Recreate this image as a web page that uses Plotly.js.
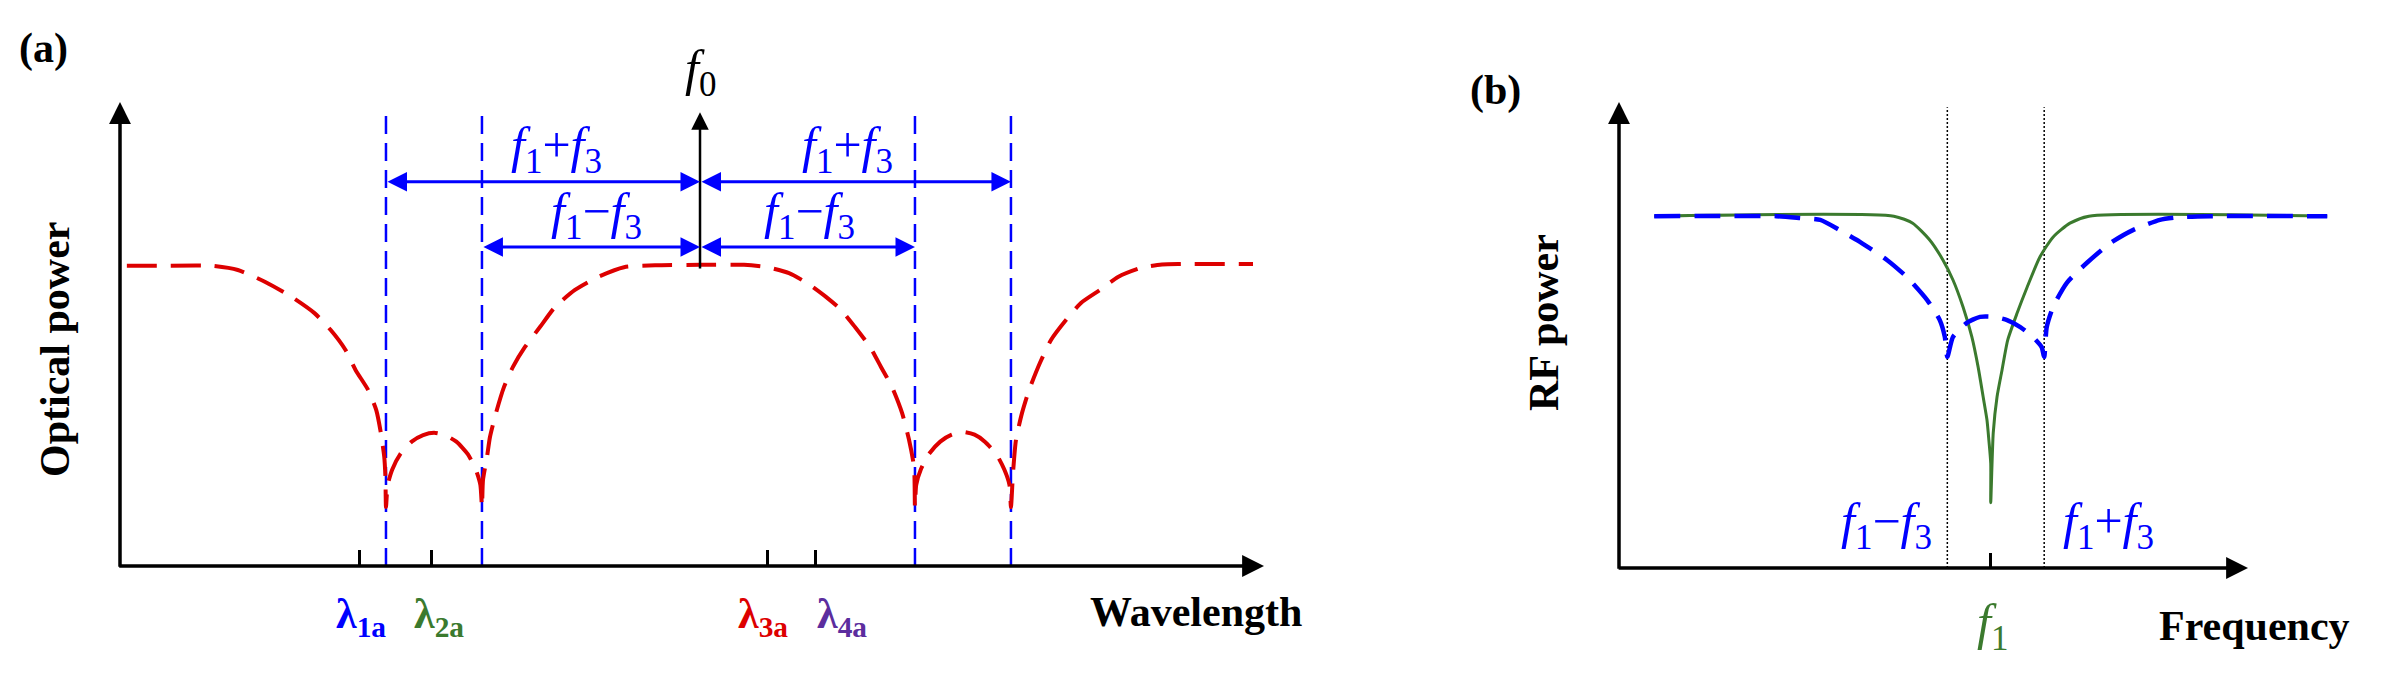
<!DOCTYPE html>
<html><head><meta charset="utf-8">
<script src="https://cdn.plot.ly/plotly-3.0.1.min.js"></script>
<style>html,body{margin:0;padding:0;background:#fff;overflow:hidden}</style>
</head><body><div id="chart" style="width:2383px;height:689px"></div>
<script>
// ---------------- Panel (a): optical spectrum (arbitrary units) ----------------
const aWavelength = [0.6,3.2,8.0,10.3,12.7,15.0,17.0,18.4,19.7,20.6,21.7,22.4,22.8,23.1,23.2,23.25,
  23.4,23.8,24.5,25.5,26.5,27.45,28.4,29.4,30.4,31.1,31.5,31.64,
  31.73,32.08,32.34,32.87,33.57,34.35,35.4,36.71,38.02,39.77,41.78,44.06,46.77,50.7,54.55,56.56,58.48,60.05,61.71,63.03,64.25,65.56,66.52,67.48,68.36,68.97,69.41,69.49,
  69.6,70.0,70.7,71.7,72.7,73.7,74.7,75.6,76.6,77.3,77.75,77.88,
  78.06,78.32,78.85,79.46,80.42,81.38,82.69,84.0,85.66,87.24,89.16,91.08,92.75,99.04];
const aOpticalPower = [64.7,64.7,64.7,63.8,61.2,58.0,54.5,50.9,46.6,42.2,37.9,33.6,28.7,23.5,19.2,12.7,
  17.5,20.8,24.1,26.8,28.2,28.7,28.2,26.8,24.1,20.8,17.5,12.7,
  18.5,23.5,27.8,33.0,38.6,42.9,47.2,51.5,55.8,59.5,62.3,64.4,64.8,64.9,64.9,64.4,63.1,61.0,58.0,55.2,51.5,47.2,42.9,38.6,33.0,27.2,21.3,12.7,
  17.5,20.8,24.1,26.8,28.3,28.9,28.3,26.8,24.1,20.8,17.5,12.7,
  20.0,27.2,33.0,37.9,43.8,48.7,53.0,56.7,59.5,62.3,64.2,65.0,65.1,65.1];
const aNotchX = [23.25, 31.64, 69.49, 77.88];      // blue dashed markers
const aCarrierX = 50.7;                            // f0
const aCarrierArrow = [63.8, 97.8];                // f0 arrow bottom / top
const aNotchTop = 97.6;
const aSumRowY = 82.8;                             // f1+f3 arrows
const aDiffRowY = 68.75;                           // f1-f3 arrows
const aLambdaX = [20.9, 27.2, 56.6, 60.8];
const aLambdaText = ['λ<sub>1a</sub>','λ<sub>2a</sub>','λ<sub>3a</sub>','λ<sub>4a</sub>'];
const aLambdaColor = ['#0000ff','#3b7a2e','#dd0000','#5c2d9e'];

// ---------------- Panel (b): RF response (arbitrary units) ----------------
const bGreenFreq = [5.6,43.7,46.7,49.4,51.5,53.1,54.7,56.1,57.1,57.9,58.5,58.8,59.1,59.1,
  59.5,60.1,60.9,61.8,63.3,64.9,66.9,69.0,71.7,74.7,112.6];
const bGreenPower = [75.5,75.5,74.0,70.4,66.1,61.8,56.0,49.6,43.1,36.7,31.8,27.5,22.5,14.0,
  29.0,36.7,42.5,48.9,54.7,60.3,66.7,71.0,74.0,75.5,75.5];
const bBlueFreq = [5.6,25.0,28.8,32.0,35.1,38.3,42.6,45.8,49.0,51.0,51.8,52.2,
  53.1,55.3,57.4,59.5,61.7,63.8,65.8,67.2,67.6,
  68.0,69.0,71.2,74.4,78.1,81.7,86.0,89.2,94.0,112.6];
const bBluePower = [75.5,75.5,75.1,74.7,72.5,70.0,66.1,62.4,57.5,53.2,49.6,45.3,
  49.6,52.6,53.9,53.9,53.2,51.7,49.6,47.4,45.3,
  51.7,56.0,61.2,65.5,69.7,72.5,74.7,75.3,75.5,75.5];
const bSideX = [52.2, 67.6];                        // f1-f3, f1+f3
const bSideTop = 98.9;
const bF1X = 59.1;

// ---------------- helpers ----------------
const W = 2383, H = 689;
const PX = x => x / W, PY = y => 1 - y / H;
const FONT = 'Liberation Serif, Times New Roman, serif';
const BLUE = '#0000ff', GREEN = '#3b7a2e', RED = '#dd0000';

const traces = [
  {x: aWavelength, y: aOpticalPower, xaxis: 'x', yaxis: 'y', mode: 'lines',
   line: {color: RED, width: 4, dash: '30px,14px', shape: 'spline', smoothing: 0.6}, hoverinfo: 'skip'},
  {x: bGreenFreq, y: bGreenPower, xaxis: 'x2', yaxis: 'y2', mode: 'lines',
   line: {color: GREEN, width: 3, shape: 'spline', smoothing: 0.6}, hoverinfo: 'skip'},
  {x: bBlueFreq, y: bBluePower, xaxis: 'x2', yaxis: 'y2', mode: 'lines',
   line: {color: BLUE, width: 4.5, dash: '26px,14px', shape: 'spline', smoothing: 0.6}, hoverinfo: 'skip'}
];

const shapes = [];
aNotchX.forEach(x => shapes.push({type: 'line', xref: 'x', yref: 'y', x0: x, x1: x, y0: 0, y1: aNotchTop,
  line: {color: BLUE, width: 2.5, dash: '18px,9px'}, layer: 'below'}));
bSideX.forEach(x => shapes.push({type: 'line', xref: 'x2', yref: 'y2', x0: x, x1: x, y0: 0, y1: bSideTop,
  line: {color: '#000', width: 1.5, dash: '2px,2px'}, layer: 'below'}));

const ann = [];
function arrow(xr, yr, x, y, ax, ay, color, width, size, both) {
  const a = {xref: xr, yref: yr, axref: xr, ayref: yr, x: x, y: y, ax: ax, ay: ay, text: '',
    showarrow: true, arrowhead: 2, arrowsize: size, arrowwidth: width, arrowcolor: color, standoff: 0, startstandoff: 0};
  if (both) { a.arrowside = 'end+start'; a.startarrowhead = 2; a.startarrowsize = size; }
  ann.push(a);
}
// axes (a)
arrow('x', 'y', 0, 100, 0, -0.5, '#000', 3.5, 1.25, false);
arrow('x', 'y', 100, 0, -0.2, 0, '#000', 3.5, 1.25, false);
// axes (b)
arrow('x2', 'y2', 0, 100, 0, -0.5, '#000', 3.5, 1.25, false);
arrow('x2', 'y2', 100, 0, -0.3, 0, '#000', 3.5, 1.25, false);
// f0 arrow
arrow('x', 'y', aCarrierX, aCarrierArrow[1], aCarrierX, aCarrierArrow[0], '#000', 2.5, 1.4, false);
// spacing arrows
arrow('x', 'y', aCarrierX, aSumRowY, aNotchX[0], aSumRowY, BLUE, 3, 1.3, true);
arrow('x', 'y', aNotchX[3], aSumRowY, aCarrierX, aSumRowY, BLUE, 3, 1.3, true);
arrow('x', 'y', aCarrierX, aDiffRowY, aNotchX[1], aDiffRowY, BLUE, 3, 1.3, true);
arrow('x', 'y', aNotchX[2], aDiffRowY, aCarrierX, aDiffRowY, BLUE, 3, 1.3, true);

function label(text, xpx, ypx, size, color, extra) {
  ann.push(Object.assign({xref: 'paper', yref: 'paper', x: PX(xpx), y: PY(ypx), xanchor: 'center', yanchor: 'middle',
    text: text, showarrow: false, font: {family: FONT, size: size, color: color}}, extra || {}));
}
const F13p = '<i>f</i><sub>1</sub>+<i>f</i><sub>3</sub>';
const F13m = '<i>f</i><sub>1</sub>−<i>f</i><sub>3</sub>';
label('<b>(a)</b>', 43, 48, 42, '#000');
label('<b>(b)</b>', 1495, 90, 42, '#000');
label('<b>Optical power</b>', 55, 350, 42, '#000', {textangle: -90});
label('<b>Wavelength</b>', 1196, 612, 42, '#000');
label('<b>RF power</b>', 1544, 323, 42, '#000', {textangle: -90});
label('<b>Frequency</b>', 2254, 626, 42, '#000');
const lamPx = [361, 439, 763, 842];
aLambdaText.forEach((t, i) => label('<b>' + t + '</b>', lamPx[i], 617, 42, aLambdaColor[i]));
label('<i>f</i><sub>0</sub>', 700, 72, 50, '#000');
label(F13p, 556, 149, 50, BLUE);
label(F13m, 596, 215, 50, BLUE);
label(F13p, 847, 149, 50, BLUE);
label(F13m, 809, 215, 50, BLUE);
label(F13m, 1887, 525, 50, BLUE);
label(F13p, 2108, 525, 50, BLUE);
label('<i>f</i><sub>1</sub>', 1992, 626, 50, GREEN);

const axBase = {showgrid: false, zeroline: false, showline: false, fixedrange: true};
const layout = {
  width: W, height: H, margin: {l: 0, r: 0, t: 0, b: 0}, paper_bgcolor: '#fff', plot_bgcolor: 'rgba(0,0,0,0)',
  showlegend: false,
  xaxis: Object.assign({}, axBase, {domain: [120 / W, 1264 / W], range: [0, 100], anchor: 'y',
    ticks: 'inside', tickvals: aLambdaX, ticklen: 16, tickwidth: 3, tickcolor: '#000', showticklabels: false}),
  yaxis: Object.assign({}, axBase, {domain: [PY(566), PY(102)], range: [0, 100], anchor: 'x', visible: false}),
  xaxis2: Object.assign({}, axBase, {domain: [1619 / W, 2340 / W], range: [0, 114.63], anchor: 'y2',
    ticks: 'inside', tickvals: [bF1X], ticklen: 15, tickwidth: 3, tickcolor: '#000', showticklabels: false}),
  yaxis2: Object.assign({}, axBase, {domain: [PY(568), PY(102)], range: [0, 100], anchor: 'x2', visible: false}),
  shapes: shapes, annotations: ann
};
Plotly.newPlot('chart', traces, layout, {staticPlot: true, displayModeBar: false});
</script></body></html>
